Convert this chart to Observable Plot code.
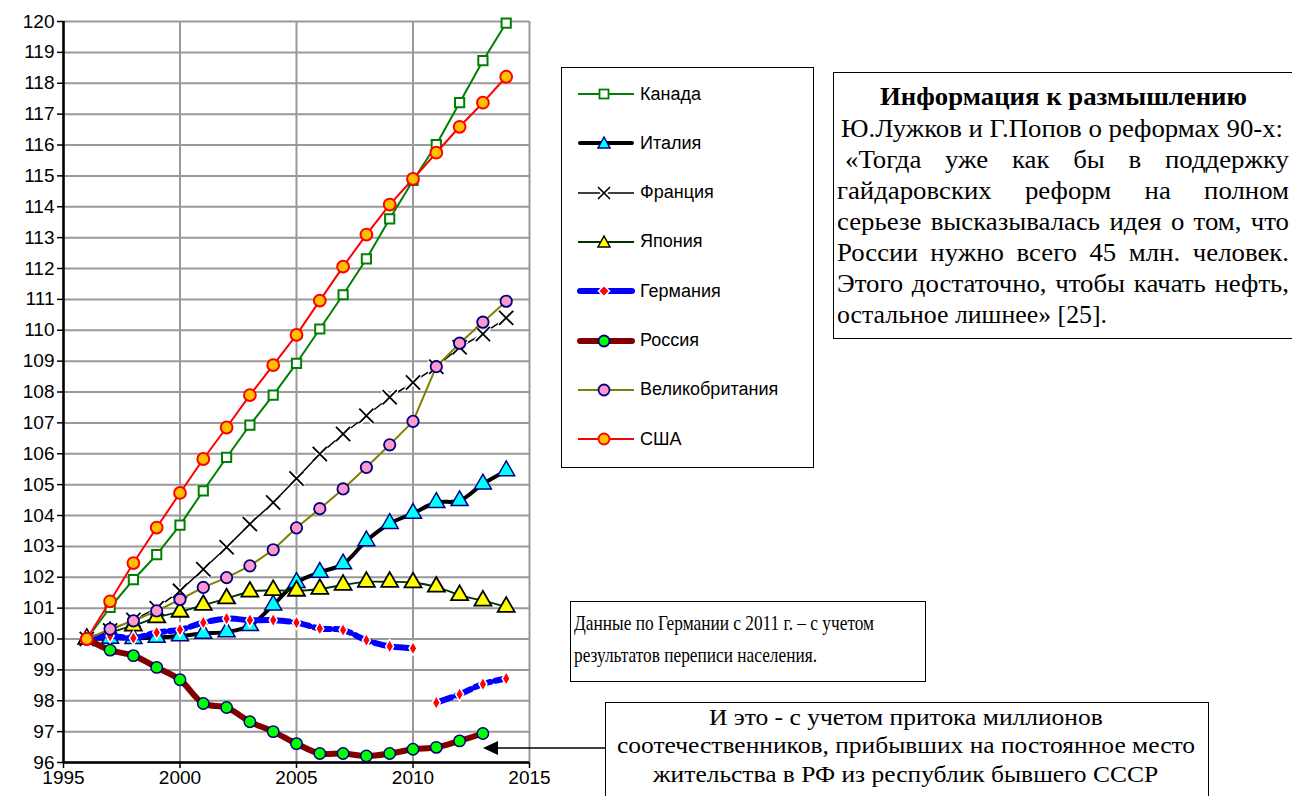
<!DOCTYPE html>
<html><head><meta charset="utf-8">
<script src="https://cdn.jsdelivr.net/npm/d3@7"></script>
<script src="https://cdn.jsdelivr.net/npm/@observablehq/plot@0.6"></script>
<style>
body{margin:0;background:#fff;width:1292px;height:796px;overflow:hidden;position:relative;font-family:"Liberation Sans",Arial,sans-serif;}
#chart{position:absolute;left:0;top:0;}
.box{position:absolute;border:1.5px solid #000;background:#fff;box-sizing:border-box;}
#legend{left:561px;top:67px;width:253px;height:401px;}
.li{position:absolute;left:14px;height:24px;display:flex;align-items:center;font-size:18px;color:#000;}
.li svg{margin-right:4px;}
#info{left:833px;top:72px;width:470px;height:267px;}
#gnote{left:570px;top:601px;width:356px;height:81px;}
#rnote{left:605px;top:702px;width:604px;height:96px;}
.ln{position:absolute;white-space:nowrap;font-family:"Times New Roman","Liberation Serif",serif;color:#000;transform-origin:0 50%;}
#arrow{position:absolute;left:0;top:0;pointer-events:none;}
</style></head>
<body>
<div id="chart"></div>
<svg id="arrow" width="1292" height="796"><line x1="496" y1="748" x2="605" y2="748" stroke="#000" stroke-width="1.5"/><path d="M483,748 L498,741 L498,755 Z" fill="#000"/></svg>
<div id="legend" class="box"></div>
<div id="info" class="box"></div>
<div id="gnote" class="box"></div>
<div id="rnote" class="box"></div>
<script>
const years = [1996,1997,1998,1999,2000,2001,2002,2003,2004,2005,2006,2007,2008,2009,2010,2011,2012,2013,2014];
const canada  = [100,101.02,101.92,102.73,103.69,104.80,105.88,106.93,107.90,108.93,110.04,111.15,112.31,113.61,114.85,116.01,117.37,118.73,119.95];
const italy   = [100,100.02,100.01,100.05,100.10,100.18,100.23,100.43,101.10,101.83,102.16,102.43,103.18,103.74,104.07,104.42,104.48,105.02,105.45];
const france  = [100,100.28,100.62,101.00,101.56,102.26,102.97,103.72,104.42,105.20,105.99,106.64,107.23,107.83,108.31,108.82,109.45,109.88,110.40];
const japan   = [100,100.22,100.43,100.70,100.88,101.10,101.31,101.53,101.58,101.56,101.62,101.75,101.85,101.85,101.83,101.69,101.42,101.24,101.04];
const germany = [100,100.10,100.03,100.21,100.30,100.53,100.66,100.61,100.61,100.53,100.34,100.29,99.96,99.76,99.70,97.94,98.21,98.54,98.72];
const germanySegment = [1,1,1,1,1,1,1,1,1,1,1,1,1,1,1,2,2,2,2];
const russia  = [100,99.64,99.46,99.08,98.68,97.91,97.78,97.32,97.00,96.61,96.29,96.29,96.21,96.29,96.43,96.49,96.70,96.94];
const uk      = [100,100.32,100.59,100.91,101.28,101.67,101.99,102.37,102.89,103.60,104.22,104.86,105.56,106.29,107.05,108.82,109.58,110.26,110.94];
const usa     = [100,101.22,102.46,103.61,104.73,105.83,106.85,107.90,108.87,109.85,110.96,112.06,113.10,114.07,114.90,115.75,116.59,117.37,118.21];
const xTicks = [1995,2000,2005,2010,2015];
const yTicks = [96,97,98,99,100,101,102,103,104,105,106,107,108,109,110,111,112,113,114,115,116,117,118,119,120];
const legendNames = ["Канада","Италия","Франция","Япония","Германия","Россия","Великобритания","США"];

const infoTitle = "Информация к размышлению";
const infoLines = ["Ю.Лужков и Г.Попов о реформах 90-х:", "«Тогда уже как бы в поддержку", "гайдаровских реформ на полном", "серьезе высказывалась идея о том, что", "России нужно всего 45 млн. человек.", "Этого достаточно, чтобы качать нефть,", "остальное лишнее» [25]."];
const germanyNote = ["Данные по Германии с 2011 г. – с учетом", "результатов переписи населения."];
const russiaNote = ["И это - с учетом притока миллионов", "соотечественников, прибывших на постоянное место", "жительства в РФ из республик бывшего СССР"];

const rows = vals => vals.map((v,i)=>({year: years[i], v, seg: germanySegment[i]}));
const C = rows(canada), I = rows(italy), F = rows(france), J = rows(japan), G = rows(germany), R = rows(russia), U = rows(uk), S = rows(usa);

const chart = Plot.plot({
  width: 1292, height: 796,
  marginLeft: 63, marginRight: 763, marginTop: 21, marginBottom: 34,
  style: {fontFamily: "Liberation Sans, Arial, sans-serif", fontSize: "19px", background: "white", color: "#000"},
  x: {domain: [1995, 2015], label: null},
  y: {domain: [96, 120], label: null},
  marks: [
    Plot.gridX(xTicks, {stroke: "#999", strokeOpacity: 1, strokeWidth: 2}),
    Plot.gridY(yTicks, {stroke: "#999", strokeOpacity: 1, strokeWidth: 2}),
    Plot.axisX(xTicks, {label: null, tickFormat: d => String(d), tickSize: 6, tickPadding: 2, strokeWidth: 1.5}),
    Plot.axisY(yTicks, {label: null, tickFormat: d => String(d), tickSize: 6, tickPadding: 3, strokeWidth: 1.5}),
    Plot.ruleX([1995], {stroke: "#000", strokeWidth: 2.5}),
    Plot.ruleY([96], {stroke: "#000", strokeWidth: 2.5}),
    Plot.line(C, {x: "year", y: "v", stroke: "#008000", strokeWidth: 2}),
    Plot.dot(C, {x: "year", y: "v", symbol: "square", r: 5.2, fill: "white", stroke: "#008000", strokeWidth: 2}),
    Plot.line(I, {x: "year", y: "v", stroke: "#000", strokeWidth: 4, curve: "catmull-rom"}),
    Plot.dot(I, {x: "year", y: "v", symbol: "triangle", r: 6.3, fill: "#00FFFF", stroke: "#000080", strokeWidth: 1.5}),
    Plot.line(F, {x: "year", y: "v", stroke: "#000", strokeWidth: 1.5}),
    Plot.dot(F, {x: "year", y: "v", symbol: "times", r: 6.5, stroke: "#fff", strokeWidth: 5}),
    Plot.dot(F, {x: "year", y: "v", symbol: "times", r: 6.5, stroke: "#000", strokeWidth: 1.8}),
    Plot.line(J, {x: "year", y: "v", stroke: "#003300", strokeWidth: 1.8, curve: "catmull-rom"}),
    Plot.dot(J, {x: "year", y: "v", symbol: "triangle", r: 6.3, fill: "#FFFF00", stroke: "#000", strokeWidth: 1.8}),
    Plot.line(G, {x: "year", y: "v", z: "seg", stroke: "#0000FF", strokeWidth: 6, strokeDasharray: "16,5", curve: "catmull-rom"}),
    Plot.dot(G, {x: "year", y: "v", symbol: "diamond", r: 4.2, fill: "#FF0000", stroke: "white", strokeWidth: 1.5}),
    Plot.line(R, {x: "year", y: "v", stroke: "#800000", strokeWidth: 6, curve: "catmull-rom"}),
    Plot.dot(R, {x: "year", y: "v", r: 5.7, fill: "#00FF00", stroke: "#000080", strokeWidth: 1.5}),
    Plot.line(U, {x: "year", y: "v", stroke: "#808000", strokeWidth: 2}),
    Plot.dot(U, {x: "year", y: "v", r: 5.7, fill: "#FF99CC", stroke: "#000080", strokeWidth: 1.8}),
    Plot.line(S, {x: "year", y: "v", stroke: "#FF0000", strokeWidth: 2}),
    Plot.dot(S, {x: "year", y: "v", r: 5.9, fill: "#FFC000", stroke: "#FF0000", strokeWidth: 2})
  ]
});
document.getElementById("chart").appendChild(chart);

// Legend
const legendStyles = [
  {line:"#008000", w:2, marker:"square", fill:"white", mstroke:"#008000"},
  {line:"#000", w:4, marker:"triangle", fill:"#00FFFF", mstroke:"#000080"},
  {line:"#000", w:1.5, marker:"times", fill:"none", mstroke:"#000"},
  {line:"#003300", w:1.8, marker:"triangle", fill:"#FFFF00", mstroke:"#000"},
  {line:"#0000FF", w:6, marker:"diamond", fill:"#FF0000", mstroke:"white"},
  {line:"#800000", w:6, marker:"circle", fill:"#00FF00", mstroke:"#000080"},
  {line:"#808000", w:2, marker:"circle", fill:"#FF99CC", mstroke:"#000080"},
  {line:"#FF0000", w:2, marker:"circle", fill:"#FFC000", mstroke:"#FF0000"}
];
const lg = document.getElementById("legend");
legendNames.forEach((name, i) => {
  const s = legendStyles[i];
  const div = document.createElement("div");
  div.className = "li";
  div.style.top = (14 + i * 49.3) + "px";
  let m = "";
  const cx = 28, cy = 12;
  if (s.marker === "square") m = `<rect x="${cx-4.5}" y="${cy-4.5}" width="9" height="9" fill="white" stroke="${s.mstroke}" stroke-width="1.8"/>`;
  else if (s.marker === "triangle") m = `<path d="M${cx},${cy-6} L${cx+6},${cy+5} L${cx-6},${cy+5} Z" fill="${s.fill}" stroke="${s.mstroke}" stroke-width="1.5"/>`;
  else if (s.marker === "times") m = `<path d="M${cx-8},${cy-8} L${cx+8},${cy+8} M${cx+8},${cy-8} L${cx-8},${cy+8}" stroke="#fff" stroke-width="5"/><path d="M${cx-6},${cy-6} L${cx+6},${cy+6} M${cx+6},${cy-6} L${cx-6},${cy+6}" stroke="#000" stroke-width="1.6"/>`;
  else if (s.marker === "diamond") m = `<path d="M${cx},${cy-5.5} L${cx+5.5},${cy} L${cx},${cy+5.5} L${cx-5.5},${cy} Z" fill="#FF0000" stroke="white" stroke-width="1.5"/>`;
  else m = `<circle cx="${cx}" cy="${cy}" r="5.5" fill="${s.fill}" stroke="${s.mstroke}" stroke-width="1.8"/>`;
  const cap = s.w >= 4 ? "round" : "butt";
  div.innerHTML = `<svg width="60" height="24"><line x1="${s.w>=4?4:2}" y1="${cy}" x2="${s.w>=4?56:58}" y2="${cy}" stroke="${s.line}" stroke-width="${s.w}" stroke-linecap="${cap}"/>${m}</svg><span>${name}</span>`;
  lg.appendChild(div);
});

// Text lines: fit to layout
function makeLine(text, size, bold) {
  const el = document.createElement("div");
  el.className = "ln";
  el.textContent = text;
  el.style.fontSize = size + "px";
  el.style.lineHeight = "30px";
  el.style.height = "30px";
  if (bold) el.style.fontWeight = "bold";
  document.body.appendChild(el);
  return el;
}
function place(el, x, cy, scale, wordSpacing) {
  if (wordSpacing) el.style.wordSpacing = wordSpacing + "px";
  el.style.left = x + "px";
  el.style.top = (cy - 15) + "px";
  el.style.transform = `scaleX(${scale})`;
}
// info box
{
  const size = 25;
  const t = makeLine(infoTitle, size, true);
  const tw = t.getBoundingClientRect().width;
  const s = 367 / tw;
  place(t, 1063 - 367/2, 97, s);
  const cys = [129, 160, 191, 222, 253, 284, 315];
  const lefts = [841, 845, 837, 837, 837, 837, 837];
  const rights = [1283, 1289, 1289, 1289, 1289, 1289, 1289];
  infoLines.forEach((txt, i) => {
    const el = makeLine(txt, size, false);
    const w = el.getBoundingClientRect().width;
    const left = lefts[i];
    const target = rights[i] - lefts[i];
    if (i === infoLines.length - 1) { place(el, left, cys[i], Math.min(s, 270 / w)); return; }
    const spaces = (txt.match(/ /g) || []).length;
    const need = target / s - w;
    if (need >= 0 && spaces > 0) place(el, left, cys[i], s, need / spaces);
    else place(el, left, cys[i], target / w);
  });
}
// Germany note
{
  const els = germanyNote.map(t => makeLine(t, 22, false));
  const s = 300 / els[0].getBoundingClientRect().width;
  place(els[0], 574, 623, s);
  place(els[1], 574, 655, s);
}
// Russia note
{
  const els = russiaNote.map(t => makeLine(t, 23, false));
  const s = 578 / els[1].getBoundingClientRect().width;
  const cys = [718, 746, 775];
  els.forEach((el, i) => {
    const w = el.getBoundingClientRect().width * s;
    place(el, 906 - w / 2, cys[i], s);
  });
}
</script>
</body></html>
